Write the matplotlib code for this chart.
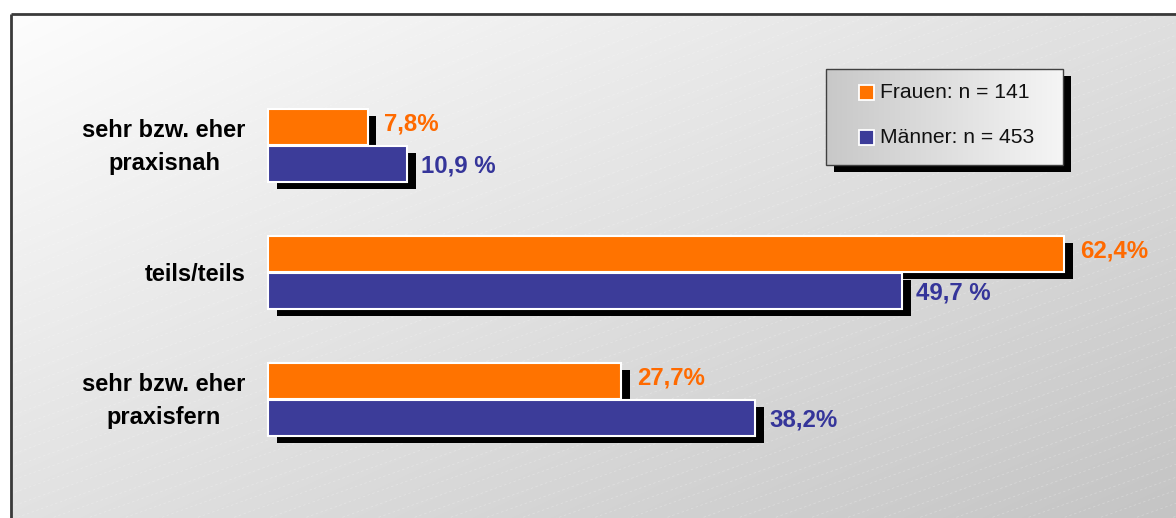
import numpy as np
import matplotlib
matplotlib.use("Agg")
import matplotlib.pyplot as plt
from matplotlib.patches import Rectangle
import matplotlib.patheffects as pe

# ---- data ----
categories = ["sehr bzw. eher\npraxisnah", "teils/teils", "sehr bzw. eher\npraxisfern"]
frauen = [7.8, 62.4, 27.7]
maenner = [10.9, 49.7, 38.2]
frauen_labels = ["7,8%", "62,4%", "27,7%"]
maenner_labels = ["10,9 %", "49,7 %", "38,2%"]
series_names = ["Frauen: n = 141", "Männer: n = 453"]

ORANGE = "#FF7300"
BLUE = "#3C3C99"
ORANGE_TXT = "#FF6A00"
BLUE_TXT = "#35359A"

W, H = 1176, 518
plt.rcParams['font.family'] = ['Liberation Sans', 'DejaVu Sans']
fig = plt.figure(figsize=(W / 100, H / 100), dpi=100)

# ---- background (pixel coordinates) ----
bg = fig.add_axes([0, 0, 1, 1])
bg.set_xlim(0, W)
bg.set_ylim(H, 0)
bg.axis('off')
xx, yy = np.meshgrid(np.arange(W), np.arange(H))
v = 254 - 30 * xx / W - 28 * yy / H
v = np.where((xx < 10) | (yy < 13), 255, v)
img = np.dstack([v, v, v]) / 255.0
bg.imshow(img, extent=(0, W, H, 0), aspect='auto', interpolation='bilinear', zorder=0)
# faint diagonal lines
for y0 in np.arange(13, H + 450, 13):
    xs = np.array([10, W])
    ys = y0 - 0.36 * (xs - 10)
    bg.plot(xs, ys, color='white', lw=0.6, ls=(0, (3, 3)), alpha=0.25, zorder=1)
bg.set_xlim(0, W)
bg.set_ylim(H, 0)
# frame
bg.plot([10.5, 10.5], [13.5, H], color='#3a3a3a', lw=2, zorder=2, solid_capstyle='butt')
bg.plot([10.5, W], [13.5, 13.5], color='#3a3a3a', lw=2, zorder=2, solid_capstyle='butt')

# ---- bars ----
ax = fig.add_axes([0, 0, 1, 1])
ax.patch.set_alpha(0)
ax.axis('off')
scale = 12.76  # px per percent
ax.set_xlim(-268 / scale, (W - 268) / scale)
g0, gs = 145, 127
ax.set_ylim((H - g0) / gs, -g0 / gs)

y = np.arange(len(categories))
bh = 36 / gs
off = 18.5 / gs
shadow = [pe.SimplePatchShadow(offset=(6.2, -5.4), shadow_rgbFace='black', alpha=1.0), pe.Normal()]
ax.barh(y - off, frauen, height=bh, color=ORANGE, edgecolor='white', lw=1.5, path_effects=shadow, zorder=3)
ax.barh(y + off, maenner, height=bh, color=BLUE, edgecolor='white', lw=1.5, path_effects=shadow, zorder=4)

for i in range(len(categories)):
    ax.annotate(frauen_labels[i], xy=(frauen[i], y[i] - off), xytext=(11.5, 1.5), textcoords='offset points',
                ha='left', va='center', fontsize=17.3, fontweight='bold', color=ORANGE_TXT, zorder=5)
    ax.annotate(maenner_labels[i], xy=(maenner[i], y[i] + off), xytext=(10, -1.5), textcoords='offset points',
                ha='left', va='center', fontsize=17.3, fontweight='bold', color=BLUE_TXT, zorder=5)
    ax.annotate(categories[i], xy=(0, y[i]), xytext=(-16, -1.5), textcoords='offset points',
                ha='right', va='center', multialignment='center', linespacing=1.6,
                fontsize=17, fontweight='bold', color='black', zorder=5)

# ---- legend (pixel coordinates) ----
lg = fig.add_axes([0, 0, 1, 1])
lg.patch.set_alpha(0)
lg.axis('off')
lg.set_xlim(0, W)
lg.set_ylim(H, 0)
lx0, lx1, ly0, ly1 = 826, 1063, 69, 165
lg.add_patch(Rectangle((lx0 + 8, ly0 + 7), lx1 - lx0, ly1 - ly0, facecolor='black', edgecolor='none', zorder=1))
grad = np.linspace(200, 245, 200)[None, :].repeat(10, axis=0) / 255.0
lg.imshow(np.dstack([grad, grad, grad]), extent=(lx0, lx1, ly1, ly0), aspect='auto', zorder=2)
lg.add_patch(Rectangle((lx0, ly0), lx1 - lx0, ly1 - ly0, facecolor='none', edgecolor='#404040', lw=1, zorder=3))
lg.set_xlim(0, W)
lg.set_ylim(H, 0)
for j, (name, col) in enumerate(zip(series_names, [ORANGE, BLUE])):
    cy = 92.5 + 45 * j
    lg.add_patch(Rectangle((859, cy - 7.5), 15, 15, facecolor=col, edgecolor='white', lw=1.3, zorder=4))
    lg.text(880, cy, name, ha='left', va='center', fontsize=15.2, color='#111111', zorder=4)

fig.savefig("out.png", dpi=100)
